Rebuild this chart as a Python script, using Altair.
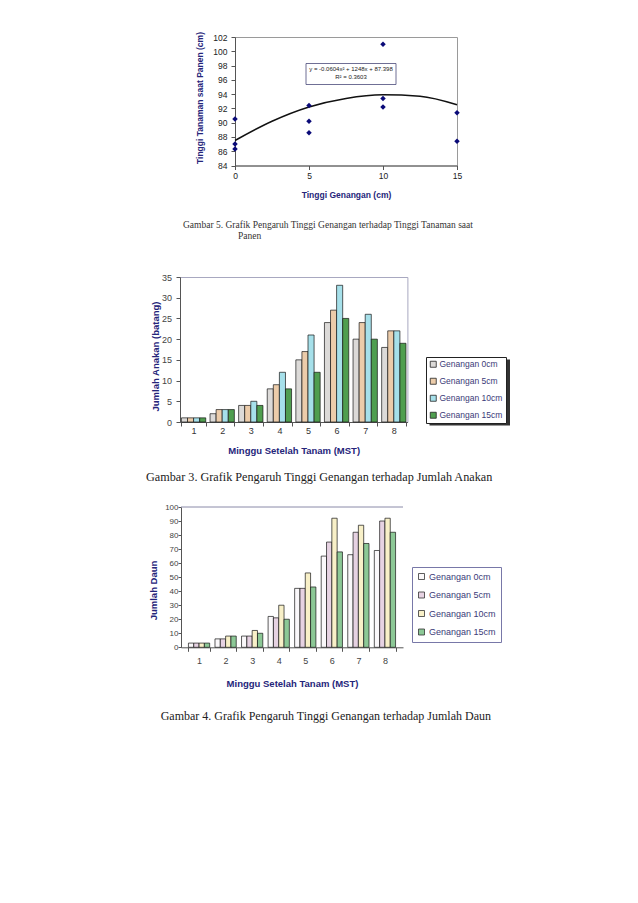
import altair as alt
import pandas as pd

# ---------------- data ----------------
# Gambar 5: scatter + trend
genangan_cm = [0, 0, 0, 5, 5, 5, 10, 10, 10, 15, 15]
tinggi_panen = [90.5, 87.0, 86.3, 92.4, 90.2, 88.6, 101.0, 93.4, 92.2, 91.4, 87.4]
trend_x = [0, 2.5, 5, 7.5, 10, 12.5, 15]
trend_y = [87.5, 90.2, 92.2, 93.4, 93.9, 93.7, 92.5]
persamaan = ["y = -0.0604x² + 1248x + 87.398", "R² = 0.3603"]

# Gambar 3 and 4: grouped bars
mst = [1, 2, 3, 4, 5, 6, 7, 8]
series = ["Genangan 0cm", "Genangan 5cm", "Genangan 10cm", "Genangan 15cm"]
anakan_0 = [1, 2, 4, 8, 15, 24, 20, 18]
anakan_5 = [1, 3, 4, 9, 17, 27, 24, 22]
anakan_10 = [1, 3, 5, 12, 21, 33, 26, 22]
anakan_15 = [1, 3, 4, 8, 12, 25, 20, 19]
daun_0 = [3, 6, 8, 22, 42, 65, 66, 69]
daun_5 = [3, 6, 8, 21, 42, 75, 82, 90]
daun_10 = [3, 8, 12, 30, 53, 92, 87, 92]
daun_15 = [3, 8, 10, 20, 43, 68, 74, 82]

cap5 = ["Gambar 5. Grafik Pengaruh Tinggi Genangan terhadap Tinggi Tanaman saat", "Panen"]
cap3 = "Gambar 3. Grafik Pengaruh Tinggi Genangan terhadap Jumlah Anakan"
cap4 = "Gambar 4. Grafik Pengaruh Tinggi Genangan terhadap Jumlah Daun"

colors_anakan = ["#dcdad8", "#ecccaa", "#a6e0ea", "#4f9e4f"]
colors_daun = ["#faf8fa", "#e6d2e2", "#f8f0c8", "#8cc896"]

FONT = "Liberation Sans"
SERIF = "Liberation Serif"
NAVY = "#25257a"
one = pd.DataFrame({"k": [0]})


def anchor(L, T, top, bottom):
    # invisible box fixing the bounds of one panel (page coordinates)
    return alt.Chart(one).mark_rect(opacity=0).encode(
        x=alt.value(9 - L), x2=alt.value(628 - L),
        y=alt.value(top - T), y2=alt.value(bottom - T))


def spacer():
    return alt.Chart(one).mark_rect(opacity=0).encode(
        x=alt.value(0), x2=alt.value(1), y=alt.value(0), y2=alt.value(1)
    ).properties(width=1, height=1, view=alt.ViewBackground(strokeOpacity=0))


def text(s, x, y, size, font=FONT, align="left", color="#222", weight="normal"):
    return alt.Chart(one).mark_text(
        text=s, align=align, baseline="middle", font=font, fontSize=size,
        color=color, fontWeight=weight).encode(x=alt.value(x), y=alt.value(y))


# ---------------- Gambar 5 ----------------
L1, T1, W1, H1 = 234, 36.5, 222, 128.5
df_pts = pd.DataFrame({"x": genangan_cm, "y": tinggi_panen})
df_tr = pd.DataFrame({"x": trend_x, "y": trend_y})
X1 = alt.X("x:Q", scale=alt.Scale(domain=[0, 15], nice=False, zero=False),
           axis=alt.Axis(values=[0, 5, 10, 15], title="Tinggi Genangan (cm)", grid=False,
                         domainColor="#555", tickColor="#555", tickSize=4,
                         labelFont=FONT, labelFontSize=8.5, labelColor="#222", labelPadding=2,
                         labelFlush=False, labelOverlap=False,
                         titleFont=FONT, titleFontSize=8.5, titleFontWeight="bold",
                         titleColor=NAVY, titleY=29, titleBaseline="middle"))
Y1 = alt.Y("y:Q", scale=alt.Scale(domain=[84, 102], nice=False, zero=False),
           axis=alt.Axis(values=list(range(84, 103, 2)), title="Tinggi Tanaman saat Panen (cm)",
                         grid=False, domainColor="#555", tickColor="#555", tickSize=4,
                         labelFont=FONT, labelFontSize=8.5, labelColor="#222", labelPadding=4,
                         labelFlush=False, labelOverlap=False,
                         titleFont=FONT, titleFontSize=8.5, titleFontWeight="bold",
                         titleColor=NAVY, titleX=-36, titleY=60.5, titleBaseline="middle"))
pts = alt.Chart(df_pts).mark_point(shape="diamond", filled=True, size=30, color="#0a0a78", opacity=1).encode(x=X1, y=Y1)
trend = alt.Chart(df_tr).mark_line(color="#111", strokeWidth=1.5, interpolate="monotone").encode(x=X1, y=Y1)
box = alt.Chart(one).mark_rect(fill="white", stroke="#4a4a7a", strokeWidth=0.8).encode(
    x=alt.value(71), x2=alt.value(161), y=alt.value(26.5), y2=alt.value(47.5))
c1 = alt.layer(
    anchor(L1, T1, 8, 255), trend, pts, box,
    text(persamaan[0], 116, 31.8, 6, align="center", color="#222"),
    text(persamaan[1], 116, 40.2, 6, align="center", color="#222"),
    text(cap5[0], 182 - L1, 224.5 - T1, 9.5, font=SERIF, color="#333"),
    text(cap5[1], 237 - L1, 235 - T1, 9.5, font=SERIF, color="#333"),
).properties(width=W1, height=H1, view=alt.ViewBackground(stroke="#9a9a9a", strokeWidth=1))

# ---------------- Gambar 3 ----------------
L2, T2, W2, H2 = 179, 275, 227.4, 145
LEG2_X, LEG2_Y = 426, 355   # page position of the legend box
rows = []
for s, vals in zip(series, [anakan_0, anakan_5, anakan_10, anakan_15]):
    for m, v in zip(mst, vals):
        rows.append({"mst": m, "gen": s, "val": v})
df2 = pd.DataFrame(rows)
bars2 = alt.Chart(df2).mark_bar(stroke="#151515", strokeWidth=0.7).encode(
    x=alt.X("mst:O", scale=alt.Scale(paddingInner=0.15, paddingOuter=0.05),
            axis=alt.Axis(title="Minggu Setelah Tanam (MST)", labelAngle=0, tickBand="extent",
                          domainColor="#555", tickColor="#555", tickSize=4,
                          labelFont=FONT, labelFontSize=9, labelColor="#333", labelPadding=0,
                          titleFont=FONT, titleFontSize=9.5, titleFontWeight="bold",
                          titleColor=NAVY, titleY=28, titleBaseline="middle")),
    xOffset=alt.XOffset("gen:N", sort=series, scale=alt.Scale(paddingInner=0, paddingOuter=0)),
    y=alt.Y("val:Q", scale=alt.Scale(domain=[0, 35], nice=False),
            axis=alt.Axis(values=list(range(0, 36, 5)), title="Jumlah Anakan (batang)", grid=False,
                          domainColor="#555", tickColor="#555", tickSize=4,
                          labelFont=FONT, labelFontSize=9, labelColor="#444", labelPadding=4.5,
                          labelFlush=False, labelOverlap=False,
                          titleFont=FONT, titleFontSize=9.5, titleFontWeight="bold",
                          titleColor=NAVY, titleX=-24.3, titleY=79, titleBaseline="middle")),
    color=alt.Color("gen:N", sort=series, scale=alt.Scale(domain=series, range=colors_anakan),
                    legend=alt.Legend(title=None, orient="none", legendX=LEG2_X - 8,
                                      legendY=LEG2_Y - T2,
                                      fillColor="white", strokeColor="#222", padding=3,
                                      rowPadding=7, symbolType="square", symbolSize=36,
                                      symbolStrokeColor="#222", symbolStrokeWidth=0.8,
                                      labelFont=FONT, labelFontSize=8.5, labelColor="#3b3b78",
                                      labelOffset=2)),
)
shadow2 = alt.Chart(one).mark_rect(fill="#333").encode(
    x=alt.value(LEG2_X - L2 + 2.5), x2=alt.value(LEG2_X - L2 + 83),
    y=alt.value(LEG2_Y - T2 + 2.5), y2=alt.value(LEG2_Y - T2 + 68.5))
c2 = alt.layer(
    anchor(L2, T2, 255, 485), shadow2, bars2,
    text(cap3, 145 - L2, 475 - T2, 12.2, font=SERIF, color="#222"),
).properties(width=W2, height=H2, view=alt.ViewBackground(stroke="#a8a8c0", strokeWidth=1))

# ---------------- Gambar 4 ----------------
L3, T3, W3, H3 = 181, 504, 222, 140.3
LEG3_X, LEG3_Y = 412, 564
rows = []
for s, vals in zip(series, [daun_0, daun_5, daun_10, daun_15]):
    for m, v in zip(mst, vals):
        rows.append({"mst": m, "gen": s, "val": v})
df3 = pd.DataFrame(rows)
Y3 = alt.Y("val:Q", scale=alt.Scale(domain=[0, 100], nice=False),
           axis=alt.Axis(values=list(range(0, 101, 10)), title="Jumlah Daun", grid=False,
                         domainColor="#555", tickColor="#555", tickSize=3,
                         labelFont=FONT, labelFontSize=8, labelColor="#444", labelPadding=0,
                         labelFlush=False, labelOverlap=False,
                         titleFont=FONT, titleFontSize=9.5, titleFontWeight="bold",
                         titleColor=NAVY, titleX=-28, titleY=83, titleBaseline="middle"))
bars3 = alt.Chart(df3).mark_bar(stroke="#151515", strokeWidth=0.7).encode(
    x=alt.X("mst:O", scale=alt.Scale(paddingInner=0.2, paddingOuter=0.28),
            axis=alt.Axis(title="Minggu Setelah Tanam (MST)", labelAngle=0, tickBand="extent",
                          domainColor="#555", tickColor="#555", tickSize=4,
                          labelFont=FONT, labelFontSize=9, labelColor="#444", labelPadding=5,
                          titleFont=FONT, titleFontSize=9.5, titleFontWeight="bold",
                          titleColor=NAVY, titleY=36, titleBaseline="middle")),
    xOffset=alt.XOffset("gen:N", sort=series, scale=alt.Scale(paddingInner=0, paddingOuter=0)),
    y=Y3,
    color=alt.Color("gen:N", sort=series, scale=alt.Scale(domain=series, range=colors_daun),
                    legend=alt.Legend(title=None, orient="none", legendX=LEG3_X - 8,
                                      legendY=LEG3_Y - T3,
                                      fillColor="white", strokeColor="#7878a8", padding=5,
                                      rowPadding=7.5, symbolType="square", symbolSize=36,
                                      symbolStrokeColor="#333", symbolStrokeWidth=0.8,
                                      labelFont=FONT, labelFontSize=9, labelColor="#3b3b78",
                                      labelOffset=3)),
)
top3 = alt.Chart(one).mark_rule(color="#8a8aa8", strokeWidth=1).encode(
    y=alt.value(0), x=alt.value(0), x2=alt.value(W3))
c3 = alt.layer(
    anchor(L3, T3, 485, 740), bars3, top3,
    text(cap4, 160.7 - L3, 712.7 - T3, 12, font=SERIF, color="#222"),
).properties(width=W3, height=H3, view=alt.ViewBackground(strokeOpacity=0))

row1 = alt.hconcat(spacer(), c1, spacing=0)
row2 = alt.hconcat(spacer(), c2, spacing=0)
row3 = alt.hconcat(spacer(), c3, spacing=0)

chart = alt.vconcat(row1, row2, row3, spacing=0).resolve_scale(
    x="independent", y="independent", color="independent", xOffset="independent"
).resolve_legend(color="independent").properties(padding=0).configure(background="white")

chart.save("out.html", embed_options={"renderer": "svg", "actions": False})
